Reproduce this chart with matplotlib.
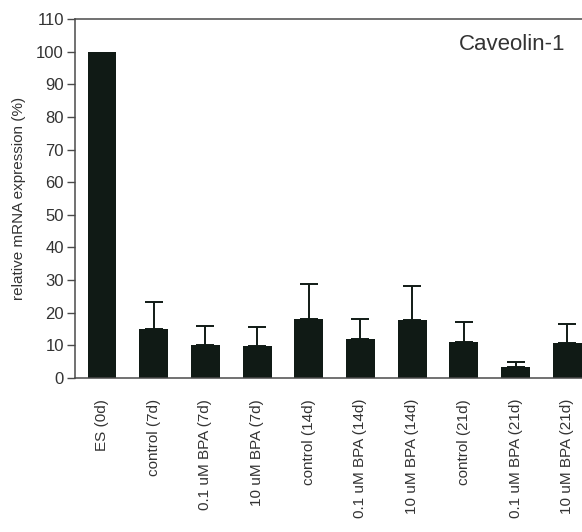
import matplotlib
matplotlib.use("Agg")
import matplotlib.pyplot as plt
import matplotlib.transforms as mtrans
import numpy as np

# data
groups = ["ES (0d)", "control (7d)", "0.1 uM BPA (7d)", "10 uM BPA (7d)",
          "control (14d)", "0.1 uM BPA (14d)", "10 uM BPA (14d)",
          "control (21d)", "0.1 uM BPA (21d)", "10 uM BPA (21d)"]
expr = [100, 15.1, 10.1, 9.8, 18.2, 11.8, 17.9, 11.1, 3.3, 10.6]
err_top = [0, 23.2, 16.0, 15.5, 28.7, 18.1, 28.2, 17.1, 5.0, 16.4]
yticks = list(range(0, 111, 10))

plt.rcParams['font.family'] = ['Liberation Sans', 'DejaVu Sans']
txt_col = '#333333'
ax_col = '#4a4a4a'
bar_col = '#101a15'

fig = plt.figure(figsize=(5.82, 5.32), dpi=100)
ax = fig.add_axes([75/582, 154/532, 528.5/582, 359/532])

x = np.arange(len(groups))
ax.bar(x, expr, width=0.56, color=bar_col, zorder=2)

# error bars only upward, ES has none
sd = np.array(err_top[1:]) - np.array(expr[1:])
ax.errorbar(x[1:], expr[1:], yerr=[np.zeros(len(sd)), sd], fmt='none',
            ecolor=bar_col, elinewidth=1.4, capsize=6.5, capthick=1.4, zorder=1)

ax.set_xlim(-0.522, 9.7)
ax.set_ylim(0, 110)
ax.set_yticks(yticks)
ax.set_xticks(x)
ax.set_xticklabels(groups, rotation=90, fontsize=11, color=txt_col)
ax.tick_params(axis='x', length=0, pad=15)
ax.tick_params(axis='y', length=6, width=1, color=ax_col, labelsize=12,
               labelcolor=txt_col, pad=2)

for s in ['left', 'top', 'bottom']:
    ax.spines[s].set_color(ax_col)
    ax.spines[s].set_linewidth(1.1)
ax.spines['right'].set_visible(False)

ax.set_ylabel("relative mRNA expression (%)", fontsize=11, color=txt_col)
ax.yaxis.set_label_coords(-0.093, 0.5)

# title sits inside the plot, placed in pixels
fig.text(512, 532 - 45, "Caveolin-1", transform=mtrans.IdentityTransform(),
         fontsize=16, color=txt_col, ha='center', va='center')

fig.savefig("out.png", dpi=100)
